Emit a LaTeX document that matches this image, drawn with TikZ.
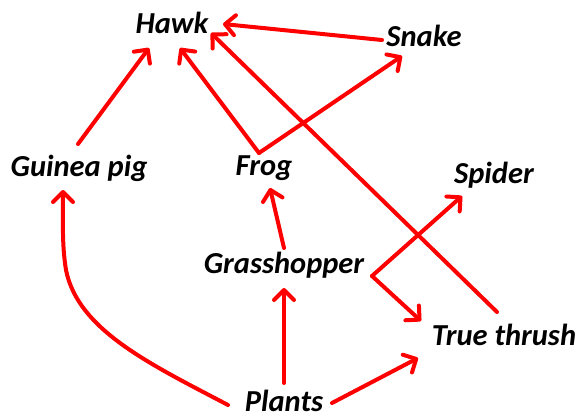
\documentclass[tikz,border=0pt]{standalone}
\usepackage{fontspec}
\setmainfont{Carlito}
\usetikzlibrary{arrows.meta}
\begin{document}
\begin{tikzpicture}[x=1pt,y=-1pt,
  lbl/.style={inner sep=0pt,anchor=base,font=\fontsize{30.5}{36}\selectfont\bfseries\itshape,text=black},
  arr/.style={draw=red,line width=4pt,line cap=round,line join=round,
    -{Straight Barb[length=10pt,width=20pt,line width=4pt,round]}}]
\useasboundingbox (0,0) rectangle (579,418);
% nodes
\node[lbl] (hawk) at (172,33) {Hawk};
\node[lbl] (snake) at (424,46) {Snake};
\node[lbl] (gpig) at (79,176) {Guinea pig};
\node[lbl] (frog) at (264,175) {Frog};
\node[lbl] (spider) at (494,183) {Spider};
\node[lbl] (grass) at (284,273) {Grasshopper};
\node[lbl] (thrush) at (504,345) {True thrush};
\node[lbl] (plants) at (284,411) {Plants};
% connector end points
\coordinate (snakeW) at (382,40);
\coordinate (hawkE1) at (223,24);
\coordinate (hawkE2) at (211,33);
\coordinate (hawkS1) at (149,48);
\coordinate (hawkS2) at (180,48);
\coordinate (gpigN) at (78,144);
\coordinate (gpigS) at (63,190);
\coordinate (frogN) at (259,153);
\coordinate (frogS) at (270,188);
\coordinate (snakeS) at (402,56);
\coordinate (grassN) at (284,248);
\coordinate (grassE) at (372,276);
\coordinate (grassS) at (284,288);
\coordinate (spiderS) at (462,196);
\coordinate (thrushN) at (497,312);
\coordinate (thrushW1) at (421,321);
\coordinate (thrushW2) at (418,358);
\coordinate (plantsW) at (228,405);
\coordinate (plantsN) at (284,383);
\coordinate (plantsE) at (332,403);
% connectors
\draw[arr] (snakeW) -- (hawkE1);
\draw[arr] (gpigN) -- (hawkS1);
\draw[arr] (frogN) -- (hawkS2);
\draw[arr] (frogN) -- (snakeS);
\draw[arr] (thrushN) -- (hawkE2);
\draw[arr] (grassN) -- (frogS);
\draw[arr] (grassE) -- (spiderS);
\draw[arr] (grassE) -- (thrushW1);
\draw[arr] (plantsN) -- (grassS);
\draw[arr] (plantsE) -- (thrushW2);
\draw[arr] (plantsW) .. controls (150,364) and (78,330) .. (66,270)
  .. controls (62,245) and (63,225) .. (gpigS);
\end{tikzpicture}
\end{document}
